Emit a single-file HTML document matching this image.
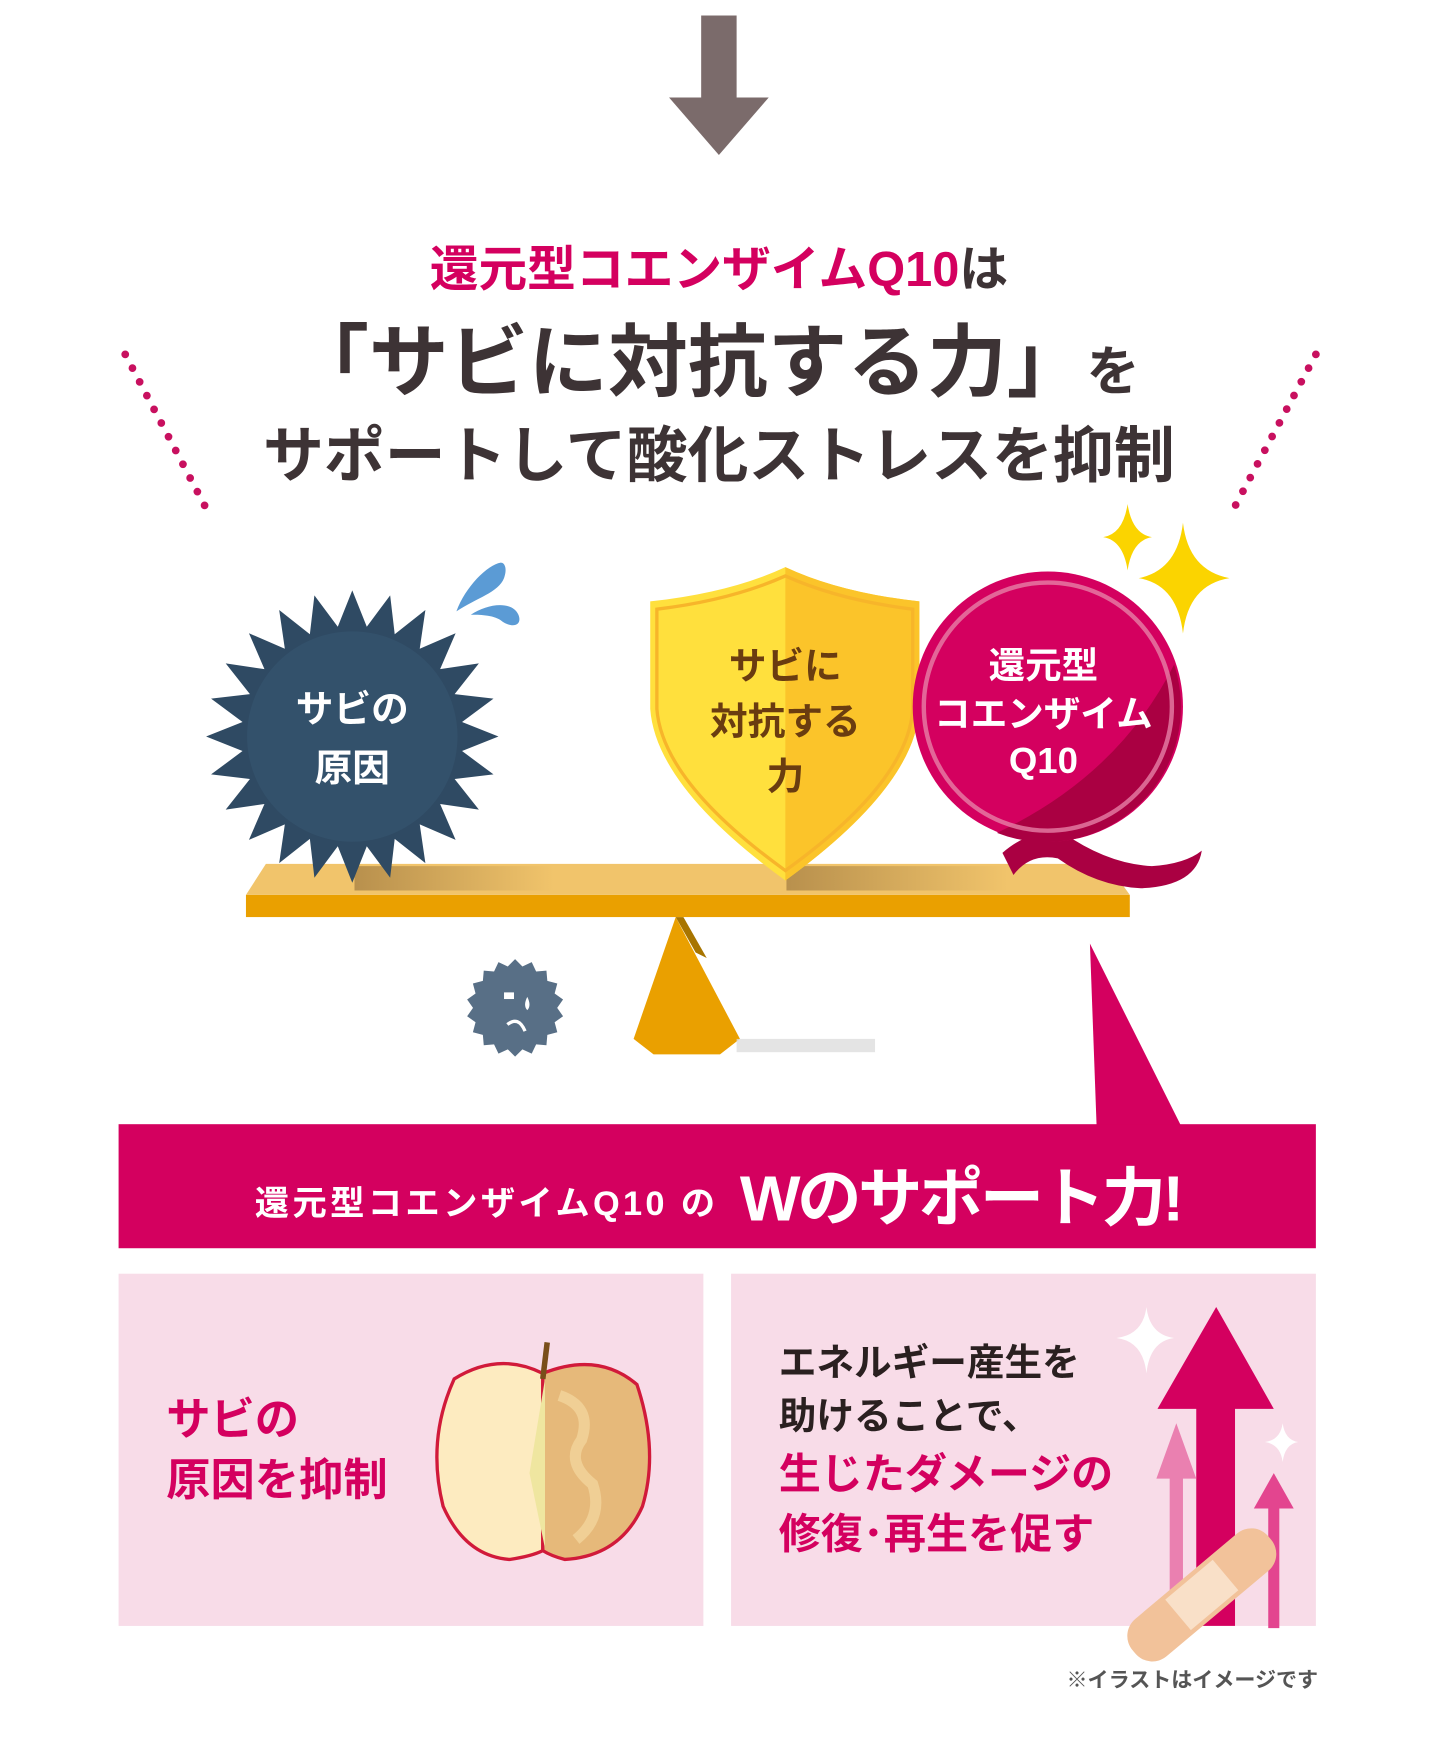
<!DOCTYPE html>
<html><head><meta charset="utf-8"><style>
html,body{margin:0;padding:0;background:#fff;width:1440px;height:1740px;overflow:hidden}
svg{display:block}
text{font-family:"Liberation Sans","Noto Sans CJK JP",sans-serif;font-weight:700}
</style></head><body>
<svg width="1440" height="1740" viewBox="0 0 1300 1571" xmlns="http://www.w3.org/2000/svg">
<defs>
<linearGradient id="sh" x1="0" x2="1" y1="0" y2="0"><stop offset="0" stop-color="#a07a40" stop-opacity="0.7"/><stop offset="1" stop-color="#a07a40" stop-opacity="0"/></linearGradient>
</defs>
<rect x="633" y="14" width="32" height="76" fill="#7b6b6b"/>
<polygon points="604,88 694,88 649,140" fill="#7b6b6b"/>
<text x="649" y="258" text-anchor="middle" font-size="44" fill="#d4005f">還元型コエンザイムQ10<tspan fill="#3d3335">は</tspan></text>
<text x="645" y="352" text-anchor="middle" font-size="72" fill="#3d3335">「サビに対抗する力」<tspan font-size="48">を</tspan></text>
<text x="649" y="430" text-anchor="middle" font-size="55" fill="#3d3335">サポートして酸化ストレスを抑制</text>
<line x1="113" y1="320" x2="185" y2="457" stroke="#c8105f" stroke-width="7" stroke-linecap="round" stroke-dasharray="0 14"/>
<line x1="1188" y1="320" x2="1115" y2="457" stroke="#c8105f" stroke-width="7" stroke-linecap="round" stroke-dasharray="0 14"/>
<path d="M1018,455 Q1022,482 1040,485 Q1022,488 1018,515 Q1014,488 996,485 Q1014,482 1018,455Z" fill="#fbd400"/>
<path d="M1068,472 Q1073,515 1110,522 Q1073,528 1068,572 Q1063,528 1028,522 Q1063,515 1068,472Z" fill="#fbd400"/>
<path d="M452,508 C440,510 420,530 412,552 C430,540 450,535 455,522 C458,514 456,508 452,508Z" fill="#5b9bd5"/>
<path d="M425,555 C440,545 462,542 468,555 C472,565 462,568 452,560 C445,555 432,555 425,555Z" fill="#5b9bd5"/>
<polygon points="240,780 1000,780 1020,808 222,808" fill="#f1c46b"/>
<rect x="320" y="782" width="180" height="22" fill="url(#sh)"/>
<rect x="710" y="782" width="200" height="22" fill="url(#sh)"/>
<rect x="222" y="808" width="798" height="20" fill="#eaa000"/>
<polygon points="610,828 572,938 590,952 650,952 668,938" fill="#eaa000"/>
<polygon points="610,828 628,860 638,865 617,828" fill="#a87500"/>
<rect x="665" y="938" width="125" height="12" fill="#ddd" opacity="0.8"/>
<polygon id="spk" fill="#2f4a63"/>
<circle cx="318" cy="665" r="95" fill="#375671" opacity="0.6"/>
<text x="318" y="652" text-anchor="middle" font-size="34" fill="#fff">サビの</text>
<text x="318" y="705" text-anchor="middle" font-size="34" fill="#fff">原因</text>
<polygon id="spk2" fill="#586f86"/>
<rect x="455" y="896" width="9" height="6" fill="#fff"/>
<path d="M476,900 q4,8 0,12 q-4,-4 0,-12z" fill="#fff"/>
<path d="M458,925 q10,-8 16,6" stroke="#fff" stroke-width="3" fill="none"/>
<path d="M587,543 Q660,535 709,512 Q758,535 830,543 L830,640 Q826,710 709,795 Q592,710 587,640Z" fill="#ffe03d"/>
<path d="M709,512 Q758,535 830,543 L830,640 Q826,710 709,795Z" fill="#fbc42a"/>
<path d="M593,550 Q660,542 709,520 Q758,542 824,550 L824,640 Q820,706 709,786 Q598,706 593,640Z" fill="none" stroke="#f7b52a" stroke-width="3"/>
<text x="709" y="613" text-anchor="middle" font-size="34" fill="#6a3c10">サビに</text>
<text x="709" y="663" text-anchor="middle" font-size="34" fill="#6a3c10">対抗する</text>
<text x="709" y="713" text-anchor="middle" font-size="34" fill="#6a3c10">力</text>
<path d="M905,770 Q930,748 960,752 Q1000,780 1040,782 Q1070,780 1085,768 Q1080,800 1030,802 Q990,800 955,775 Q930,770 915,790Z" fill="#aa0042"/>
<circle cx="946" cy="638" r="122" fill="#d4005f"/>
<path d="M1060,600 A122,122 0 0 1 900,752 Q1010,700 1060,600Z" fill="#aa0042"/>
<circle cx="946" cy="638" r="112" fill="none" stroke="#e67fa6" stroke-width="4" opacity="0.8"/>
<text x="942" y="612" text-anchor="middle" font-size="33" fill="#fff">還元型</text>
<text x="942" y="656" text-anchor="middle" font-size="33" fill="#fff">コエンザイム</text>
<text x="942" y="698" text-anchor="middle" font-size="33" fill="#fff">Q10</text>
<polygon points="984,852 990,1016 1066,1016" fill="#d4005f"/>
<rect x="107" y="1015" width="1081" height="112" fill="#d4005f"/>
<text x="230" y="1097" font-size="31" font-weight="400" fill="#fff" letter-spacing="3">還元型コエンザイムQ10 の</text>
<text x="668" y="1102" font-size="58" fill="#fff" font-weight="900" letter-spacing="-3">Wのサポート力!</text>
<rect x="107" y="1150" width="528" height="318" fill="#f8dce8"/>
<rect x="660" y="1150" width="528" height="318" fill="#f8dce8"/>
<text x="150" y="1295" font-size="40" fill="#d4005f">サビの</text>
<text x="150" y="1350" font-size="40" fill="#d4005f">原因を抑制</text>
<path d="M490,1240 Q450,1220 410,1245 Q385,1300 400,1360 Q420,1405 460,1408 Q480,1405 490,1400Z" fill="#fdebc0" stroke="#d11a3a" stroke-width="3"/>
<path d="M490,1240 Q540,1220 575,1250 Q595,1310 580,1360 Q560,1405 510,1408 Q498,1405 490,1400Z" fill="#e6b97a" stroke="#d11a3a" stroke-width="3"/>
<path d="M505,1260 q30,10 20,40 q-15,20 10,40 q10,30 -15,50" stroke="#f0cf95" stroke-width="10" fill="none"/>
<path d="M492,1245 L492,1398 L478,1330Z" fill="#efe6a0"/>
<line x1="490" y1="1245" x2="494" y2="1212" stroke="#7a4f1a" stroke-width="5"/>
<text x="703" y="1242" font-size="34" fill="#2a2020" font-weight="500">エネルギー産生を</text>
<text x="703" y="1290" font-size="34" fill="#2a2020" font-weight="500">助けることで、</text>
<text x="703" y="1344" font-size="38" fill="#d4005f">生じたダメージの</text>
<text x="703" y="1398" font-size="38" fill="#d4005f">修復･再生を促す</text>
<polygon points="1098,1180 1150,1272 1115,1272 1115,1468 1080,1468 1080,1272 1045,1272" fill="#d4005f"/>
<polygon points="1062,1285 1080,1335 1068,1335 1068,1468 1056,1468 1056,1335 1044,1335" fill="#ea80b0"/>
<polygon points="1150,1330 1168,1362 1155,1362 1155,1470 1145,1470 1145,1362 1132,1362" fill="#e3458f"/>
<path d="M1035,1180 Q1038,1205 1060,1208 Q1038,1211 1035,1240 Q1032,1211 1008,1208 Q1032,1205 1035,1180Z" fill="#fff"/>
<path d="M1158,1285 Q1160,1300 1172,1302 Q1160,1304 1158,1320 Q1156,1304 1142,1302 Q1156,1300 1158,1285Z" fill="#fff"/>
<g transform="translate(1085,1440) rotate(-40)">
<rect x="-80" y="-22" width="160" height="44" rx="20" fill="#f2c29a"/>
<rect x="-28" y="-18" width="56" height="36" fill="#f9e0c8"/>
</g>
<text x="1190" y="1523" text-anchor="end" font-size="19" fill="#555" font-weight="500">※イラストはイメージです</text>
</svg>
<script>
function star(id,cx,cy,ro,ri,n){var p=[];for(var i=0;i<2*n;i++){var r=i%2?ri:ro,a=Math.PI*i/n-Math.PI/2;p.push((cx+r*Math.cos(a)).toFixed(1)+','+(cy+r*Math.sin(a)).toFixed(1));}document.getElementById(id).setAttribute('points',p.join(' '));}
star('spk',318,665,132,100,24);star('spk2',465,910,44,38,18);
</script>
</body></html>
